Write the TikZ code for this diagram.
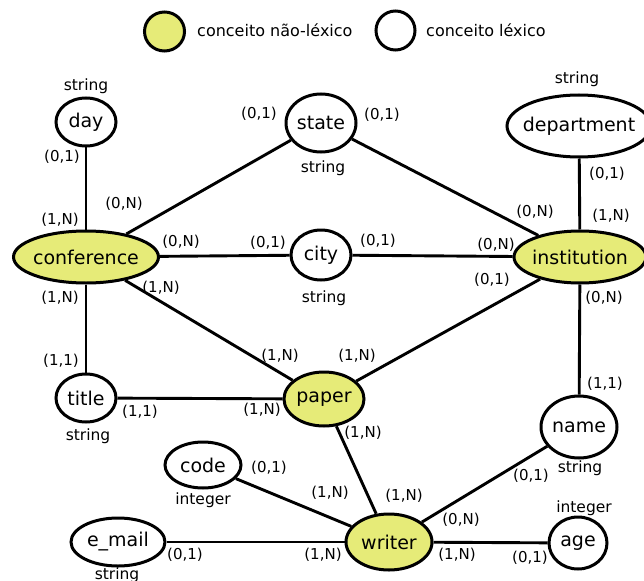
\documentclass[tikz,border=0pt]{standalone}
\usepackage{fontspec}
\setmainfont{DejaVu Sans}
\usetikzlibrary{shapes.geometric}
\definecolor{concept}{RGB}{230,235,120}
\tikzset{
  ent/.style={ellipse, draw=black, line width=3pt, inner sep=0pt},
  nonlex/.style={ent, fill=concept},
  lex/.style={ent, fill=white},
  every label/.style={font=\fontsize{19}{22}\selectfont, inner sep=0pt},
  card/.style={font=\fontsize{15}{17}\selectfont, inner sep=0pt},
  dtype/.style={font=\fontsize{15.5}{17}\selectfont, inner sep=0pt},
  legendtxt/.style={font=\fontsize{16}{18}\selectfont, inner sep=0pt, anchor=west},
  link/.style={line width=2.9pt}
}
\begin{document}
\begin{tikzpicture}[x=1pt,y=-1pt]
\useasboundingbox (0,0) rectangle (644,580);
\clip (0,0) rectangle (644,580);

% legend
\node[nonlex, minimum width=40pt, minimum height=39pt] (legA) at (164.5,31.5) {};
\node[legendtxt] (legAt) at (197,30) {conceito não-léxico};
\node[lex, minimum width=39pt, minimum height=39pt] (legB) at (395.5,30.5) {};
\node[legendtxt] (legBt) at (426,30) {conceito léxico};

% links (drawn first, concepts cover their ends)
\coordinate (pday) at (86,122);
\coordinate (pstate) at (321,123);
\coordinate (pdept) at (579,126);
\coordinate (pconf) at (86,257);
\coordinate (pcity) at (321,255);
\coordinate (pinst) at (580,257);
\coordinate (ptitle) at (86,398);
\coordinate (ppaper) at (324,399);
\coordinate (pname) at (579,427);
\coordinate (pcode) at (203,465);
\coordinate (pwriter) at (389,542);
\coordinate (pemail) at (118,542);
\coordinate (page) at (578,543);

% concepts
\node[lex, minimum width=60pt, minimum height=48pt, label=center:day] (day) at (pday) {};
\node[lex, minimum width=70pt, minimum height=58pt, label=center:state] (state) at (pstate) {};
\node[lex, minimum width=144pt, minimum height=62pt, label=center:department] (dept) at (pdept) {};
\node[nonlex, minimum width=145pt, minimum height=52pt, label=center:conference] (conf) at (pconf) {};
\node[lex, minimum width=60pt, minimum height=50pt, label=center:city] (city) at (pcity) {};
\node[nonlex, minimum width=132pt, minimum height=52pt, label=center:institution] (inst) at (pinst) {};
\node[lex, minimum width=60pt, minimum height=48pt, label=center:title] (title) at (ptitle) {};
\node[nonlex, minimum width=80pt, minimum height=54pt, label=center:paper] (paper) at (ppaper) {};
\node[lex, minimum width=76pt, minimum height=62pt, label=center:name] (name) at (pname) {};
\node[lex, minimum width=76pt, minimum height=46pt, label=center:code] (code) at (pcode) {};
\node[nonlex, minimum width=86pt, minimum height=56pt, label=center:writer] (writer) at (pwriter) {};
\node[lex, minimum width=94pt, minimum height=48pt, label=center:e\_mail] (email) at (pemail) {};
\node[lex, minimum width=58pt, minimum height=52pt, label=center:age] (age) at (page) {};

% data types
\node[dtype] (tday) at (86,86) {string};
\node[dtype] (tstate) at (323,168) {string};
\node[dtype] (tdept) at (577,79) {string};
\node[dtype] (tcity) at (324,298) {string};
\node[dtype] (ttitle) at (88,436) {string};
\node[dtype] (tname) at (580,468) {string};
\node[dtype] (tcode) at (203,500) {integer};
\node[dtype] (temail) at (117,575) {string};
\node[dtype] (tage) at (584,508) {integer};

% links between concepts
\draw[link] (day) -- (conf);
\draw[link] (conf) -- (state);
\draw[link] (state) -- (inst);
\draw[link] (dept) -- (inst);
\draw[link] (conf) -- (city);
\draw[link] (city) -- (inst);
\draw[link] (conf) -- (paper);
\draw[link] (inst) -- (paper);
\draw[link] (inst) -- (name);
\draw[link] (conf) -- (title);
\draw[link] (title) -- (paper);
\draw[link] (paper) -- (writer);
\draw[link] (code) -- (writer);
\draw[link] (name) -- (writer);
\draw[link] (email) -- (writer);
\draw[link] (writer) -- (age);

% cardinalities
\node[card] (c1) at (62,157) {(0,1)};
\node[card] (c2) at (60,220) {(1,N)};
\node[card] (c3) at (259,114) {(0,1)};
\node[card] (c4) at (124,204) {(0,N)};
\node[card] (c5) at (382,115) {(0,1)};
\node[card] (c6) at (535,212) {(0,N)};
\node[card] (c7) at (607,174) {(0,1)};
\node[card] (c8) at (611,216) {(1,N)};
\node[card] (c9) at (181,242) {(0,N)};
\node[card] (c10) at (268,243) {(0,1)};
\node[card] (c11) at (378,241) {(0,1)};
\node[card] (c12) at (496,245) {(0,N)};
\node[card] (c13) at (161,288) {(1,N)};
\node[card] (c14) at (280,356) {(1,N)};
\node[card] (c15) at (492,280) {(0,1)};
\node[card] (c16) at (357,356) {(1,N)};
\node[card] (c17) at (604,298) {(0,N)};
\node[card] (c18) at (605,384) {(1,1)};
\node[card] (c19) at (60,298) {(1,N)};
\node[card] (c20) at (61,361) {(1,1)};
\node[card] (c21) at (140,412) {(1,1)};
\node[card] (c22) at (262,410) {(1,N)};
\node[card] (c23) at (363,433) {(1,N)};
\node[card] (c24) at (404,496) {(1,N)};
\node[card] (c25) at (269,468) {(0,1)};
\node[card] (c26) at (330,493) {(1,N)};
\node[card] (c27) at (531,476) {(0,1)};
\node[card] (c28) at (461,520) {(0,N)};
\node[card] (c29) at (185,555) {(0,1)};
\node[card] (c30) at (323,555) {(1,N)};
\node[card] (c31) at (457,555) {(1,N)};
\node[card] (c32) at (530,558) {(0,1)};
\end{tikzpicture}
\end{document}
